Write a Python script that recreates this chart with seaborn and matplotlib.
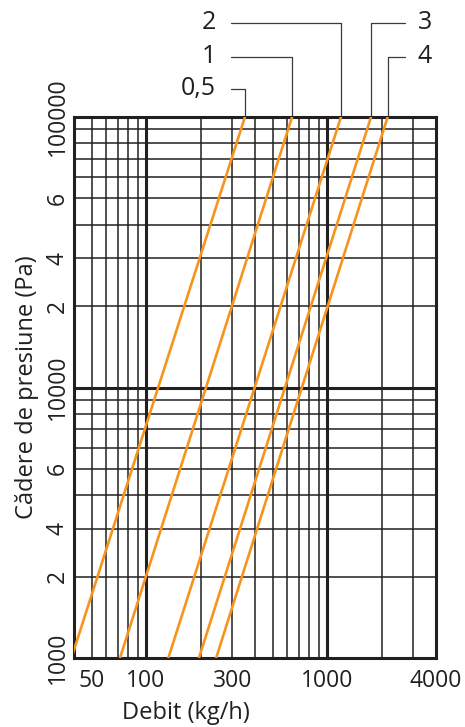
import numpy as np
import pandas as pd
import seaborn as sns
import matplotlib.pyplot as plt
from matplotlib.ticker import NullLocator

# Kv curves, debit (kg/h) read where each line meets 1000 Pa and 100000 Pa
kv_labels = ['0,5', '1', '2', '3', '4']
debit_at_low = [38.7, 71.8, 132.8, 196, 244]
debit_at_high = [352, 641, 1194, 1750, 2163]
dp_ends = [1000, 100000]

x_ticks = [50, 100, 300, 1000, 4000]
y_ticks = [1000, 2000, 3000, 5000, 10000, 20000, 30000, 50000, 100000]
y_tick_labels = ['1000', '2', '4', '6', '10000', '2', '4', '6', '100000']

rows = []
for lab, lo, hi in zip(kv_labels, debit_at_low, debit_at_high):
    rows.append({'kv': lab, 'debit': lo, 'dp': dp_ends[0]})
    rows.append({'kv': lab, 'debit': hi, 'dp': dp_ends[1]})
df = pd.DataFrame(rows)

sns.set_theme(style='white')
plt.rcParams['font.family'] = ['Open Sans', 'DejaVu Sans']

ink = '#231f20'
orange = '#f7941d'

fig = plt.figure(figsize=(4.65, 7.27), dpi=100)
ax = fig.add_axes([74 / 465, 69 / 727, 362 / 465, 541 / 727])
ax.set_xscale('log')
ax.set_yscale('log')
xmin, xmax = 40, 4000
ax.set_xlim(xmin, xmax)
ax.set_ylim(1000, 100000)

# log grid, decades drawn heavier
for d in [10, 100, 1000]:
    for m in range(1, 10):
        v = m * d
        if xmin < v < xmax:
            ax.axvline(v, color=ink, lw=2.2 if m == 1 else 1.1, zorder=1)
for d in [1000, 10000]:
    for m in range(1, 10):
        v = m * d
        if 1000 < v < 100000:
            ax.axhline(v, color=ink, lw=2.2 if m == 1 else 1.1, zorder=1)

sns.lineplot(data=df, x='debit', y='dp', hue='kv', palette=[orange] * len(kv_labels),
             estimator=None, legend=False, lw=1.9, ax=ax, zorder=3)

for s in ax.spines.values():
    s.set_color(ink)
    s.set_linewidth(2.2)
    s.set_visible(True)

ax.set_xticks(x_ticks, labels=[str(v) for v in x_ticks])
ax.xaxis.set_minor_locator(NullLocator())
ax.set_yticks(y_ticks, labels=y_tick_labels, rotation=90, va='center')
ax.yaxis.set_minor_locator(NullLocator())
ax.tick_params(length=0, labelsize=16.5, labelcolor=ink)
ax.tick_params(axis='x', pad=8)
ax.tick_params(axis='y', pad=3)

ax.set_ylabel('Cădere de presiune (Pa)', fontsize=17, color=ink, labelpad=5)
ax.set_xlabel('Debit (kg/h)', fontsize=17, color=ink)
ax.xaxis.set_label_coords(0.31, -0.08)

# curve labels with leader lines above the chart
levels = [1.052, 1.111, 1.174, 1.174, 1.111]
sides = ['left', 'left', 'left', 'right', 'right']
for lab, xt, lvl, side in zip(kv_labels, debit_at_high, levels, sides):
    if side == 'left':
        f_end, f_txt, ha = 0.434, 0.392, 'right'
    else:
        f_end, f_txt, ha = 0.914, 0.950, 'left'
    x_end = xmin * (xmax / xmin) ** f_end
    ax.plot([xt, xt, x_end], [1.0, lvl, lvl], transform=ax.get_xaxis_transform(),
            color='#3a3a3a', lw=0.9, clip_on=False)
    ax.text(f_txt, lvl, lab, transform=ax.transAxes, ha=ha, va='center',
            fontsize=18, color=ink)

fig.savefig('out.png', dpi=100)
